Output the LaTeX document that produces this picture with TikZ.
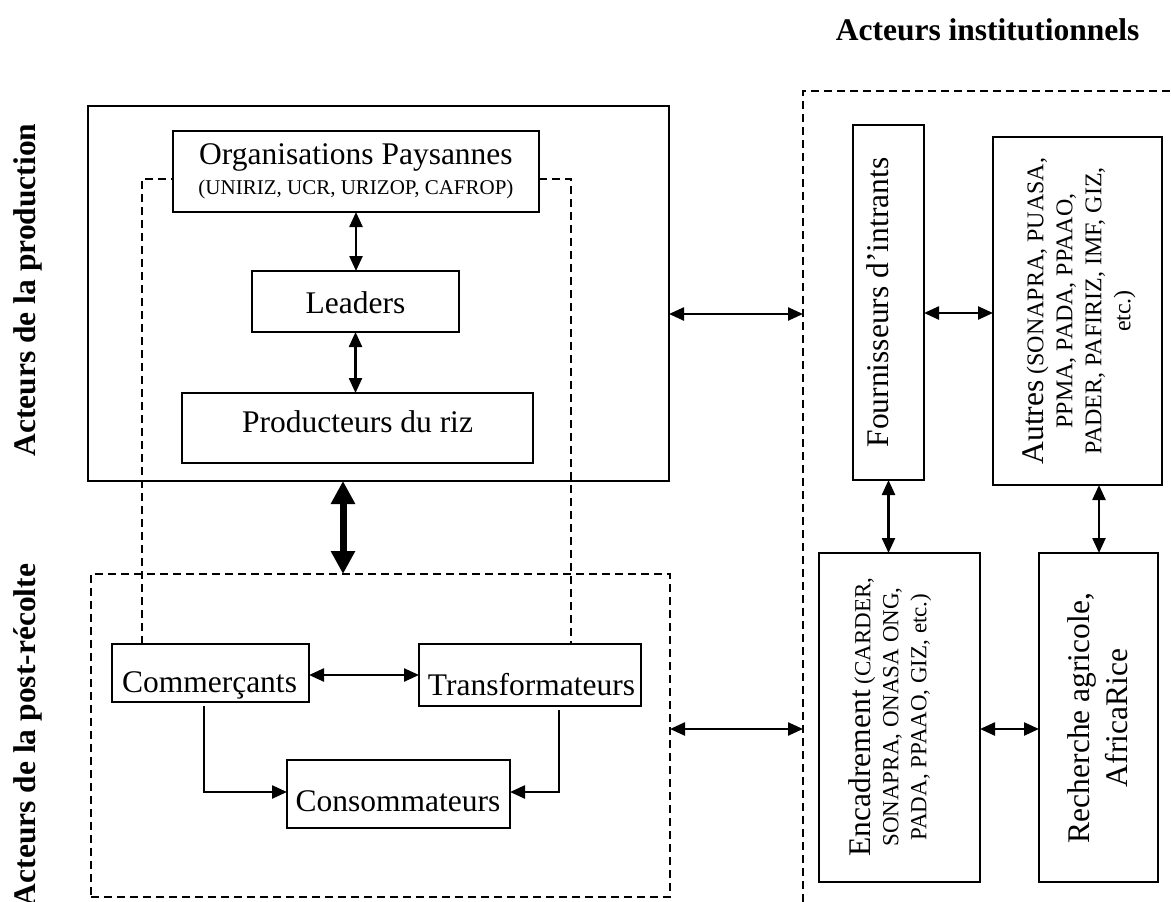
\documentclass[tikz,border=0pt]{standalone}
\usepackage{fontspec}
\setmainfont{Liberation Serif}
\usetikzlibrary{arrows.meta}
\newcommand\fsBig{\fontsize{31.5}{36}\selectfont}
\begin{document}
\begin{tikzpicture}[x=1pt,y=-1pt,
  frame/.style={draw,line width=1.8pt,inner sep=0pt,outer sep=0pt},
  dframe/.style={draw,line width=1.6pt,dash pattern=on 8pt off 5pt,inner sep=0pt,outer sep=0pt},
  dline/.style={line width=1.6pt,dash pattern=on 8pt off 5pt},
  biarrow/.style={line width=2.4pt,{Triangle[length=15pt,width=13pt]}-{Triangle[length=15pt,width=13pt]}},
  toarrow/.style={line width=2.4pt,-{Triangle[length=15pt,width=13pt]}},
  fatarrow/.style={line width=7pt,{Triangle[length=23pt,width=23pt]}-{Triangle[length=23pt,width=23pt]}},
  lbl/.style={font=\fsBig\bfseries},
  txt/.style={font=\fsBig,inner sep=0pt},
]
\useasboundingbox (0,0) rectangle (1171,902);

% side and top headings
\node[lbl,rotate=90] (lprod) at (28,290) {Acteurs de la production};
\node[lbl,rotate=90] (lpost) at (28,735) {Acteurs de la post-récolte};
\node[lbl,anchor=base east] (ltitle) at (1143,40) {Acteurs institutionnels};

% production group
\node[frame,minimum width=581pt,minimum height=375pt] (prod) at (378.5,293.5) {};
\node[frame,minimum width=366pt,minimum height=81pt] (op) at (356,171.5) {};
\node[align=center,inner sep=0pt,font=\fontsize{21}{30}\selectfont] (optxt) at (op.center)
  {{\fsBig Organisations Paysannes}\\(UNIRIZ, UCR, URIZOP, CAFROP)};
\node[frame,minimum width=207pt,minimum height=61pt] (leaders) at (355.5,301.5) {};
\node[txt] (leaderstxt) at (355.5,302.5) {Leaders};
\node[frame,minimum width=351pt,minimum height=70pt] (prodriz) at (357.5,428) {};
\node[txt] (prodriztxt) at (357.5,421.5) {Producteurs du riz};

% post-harvest group
\node[dframe,minimum width=579pt,minimum height=323pt] (post) at (380.5,735.5) {};
\node[frame,minimum width=197pt,minimum height=58pt] (comm) at (210.5,673) {};
\node[txt] (commtxt) at (209.5,685) {Commerçants};
\node[frame,minimum width=222pt,minimum height=62pt] (trans) at (530,675) {};
\node[txt] (transtxt) at (531.5,685) {Transformateurs};
\node[frame,minimum width=223pt,minimum height=68pt] (cons) at (398.5,794) {};
\node[txt] (constxt) at (398,801) {Consommateurs};

% institutional group
\coordinate (instB) at (803,902);
\coordinate (instTL) at (803,91);
\coordinate (instR) at (1171,91);
\draw[dline] (instB) -- (instTL) -- (instR);
\node[frame,minimum width=71pt,minimum height=355pt] (fou) at (888.5,302.5) {};
\node[txt,rotate=90] (foutxt) at (877.5,302.5) {Fournisseurs d’intrants};
\node[frame,minimum width=169pt,minimum height=348pt] (autres) at (1077.5,311) {};
\node[rotate=90,align=center,inner sep=0pt,font=\fontsize{24}{29}\selectfont] (autrestxt) at (1079,311)
  {{\fsBig Autres} (SONAPRA, PUASA,\\PPMA, PADA, PPAAO,\\PADER, PAFIRIZ, IMF, GIZ,\\etc.)};
\node[frame,minimum width=161pt,minimum height=329pt] (enc) at (899.5,717.5) {};
\node[rotate=90,align=center,inner sep=0pt,font=\fontsize{23}{28}\selectfont] (enctxt) at (890,717)
  {{\fsBig Encadrement} (CARDER,\\SONAPRA, ONASA ONG,\\PADA, PPAAO, GIZ, etc.)};
\node[frame,minimum width=119pt,minimum height=329pt] (rech) at (1098.5,717.5) {};
\node[rotate=90,align=center,inner sep=0pt,font=\fontsize{31.5}{38}\selectfont] (rechtxt) at (1097.5,718)
  {Recherche agricole,\\AfricaRice};

% dashed link from the farmer organisations to traders and processors
\coordinate (lx) at (142,179);
\coordinate (rx) at (571,179);
\draw[dline] (comm.north -| lx) -- (lx) -- (op.west |- lx);
\draw[dline] (op.east |- rx) -- (rx) -- (trans.north -| rx);

% connectors
\coordinate (fx) at (343,0);
\coordinate (ya) at (0,314);
\coordinate (yb) at (0,729);
\coordinate (yc) at (0,313);
\coordinate (yd) at (0,675);
\coordinate (ye) at (0,792);
\coordinate (xr) at (1099,0);
\coordinate (xc) at (204,0);
\coordinate (xt) at (559,0);
\draw[biarrow] (op.south) -- (op.south |- leaders.north);
\draw[biarrow] (leaders.south) -- (leaders.south |- prodriz.north);
\draw[fatarrow] (prod.south -| fx) -- (post.north -| fx);
\draw[biarrow] (prod.east |- ya) -- (instB |- ya);
\draw[biarrow] (post.east |- yb) -- (instB |- yb);
\draw[biarrow] (comm.east |- yd) -- (trans.west |- yd);
\draw[toarrow] ([yshift=-4pt]comm.south -| xc) |- (cons.west |- ye);
\draw[toarrow] ([yshift=-4pt]trans.south -| xt) |- (cons.east |- ye);
\draw[biarrow] (fou.east |- yc) -- (autres.west |- yc);
\draw[biarrow] (fou.south) -- (fou.south |- enc.north);
\draw[biarrow] (autres.south -| xr) -- (rech.north -| xr);
\draw[biarrow] (enc.east |- yb) -- (rech.west |- yb);
\end{tikzpicture}
\end{document}
